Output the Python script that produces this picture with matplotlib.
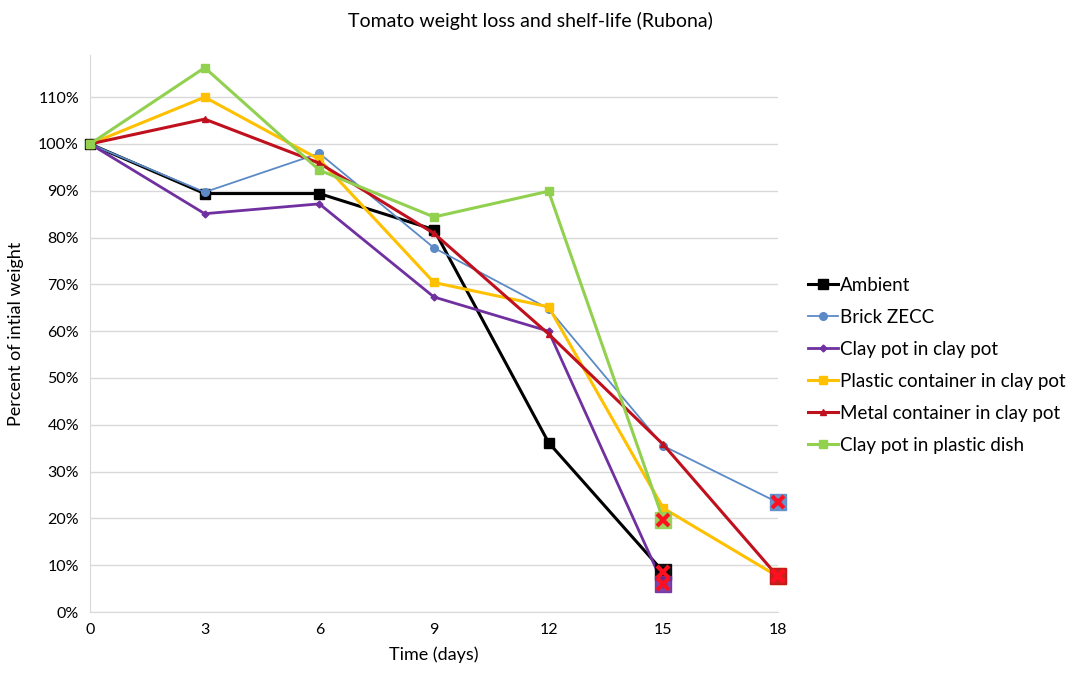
import numpy as np
import matplotlib.pyplot as plt
from matplotlib.ticker import PercentFormatter

plt.rcParams['font.family'] = ['Lato', 'DejaVu Sans']

# days of measurement
days = [0, 3, 6, 9, 12, 15, 18]

# percent of initial weight per storage method (None = no reading)
ambient = [100, 89.4, 89.4, 81.7, 36.2, 8.6, None]
brick_zecc = [100, 89.7, 98.0, 77.8, 64.8, 35.5, 23.4]
clay_in_clay = [100, 85.1, 87.2, 67.3, 60.0, 5.9, None]
plastic_in_clay = [100, 110.0, 96.7, 70.4, 65.2, 22.2, 7.6]
metal_in_clay = [100, 105.3, 95.9, 80.9, 59.4, 35.8, 7.6]
clay_in_dish = [100, 116.3, 94.4, 84.4, 89.9, 19.7, None]

labels = ["Ambient", "Brick ZECC", "Clay pot in clay pot",
          "Plastic container in clay pot", "Metal container in clay pot",
          "Clay pot in plastic dish"]
series = [ambient, brick_zecc, clay_in_clay, plastic_in_clay, metal_in_clay, clay_in_dish]
colors = ["#000000", "#5B8AC6", "#7030A0", "#FFC000", "#C0101E", "#92D050"]
markers = ["s", "o", "D", "s", "^", "s"]
msizes = [6.5, 5.5, 3.5, 6, 5, 6]
lwidths = [2.2, 1.3, 2.0, 2.2, 2.2, 2.2]

fig = plt.figure(figsize=(10.67, 6.75), dpi=100)
ax = fig.add_axes([0.0844, 0.0933, 0.6446, 0.8252])

for vals, lab, c, m, ms, lw in zip(series, labels, colors, markers, msizes, lwidths):
    x = [d for d, v in zip(days, vals) if v is not None]
    y = [v / 100 for v in vals if v is not None]
    ax.plot(x, y, color=c, marker=m, markersize=ms, linewidth=lw, label=lab,
            zorder=3, clip_on=False)

# last reading of each series: spoiled marker
for vals, c in zip(series, colors):
    x = [d for d, v in zip(days, vals) if v is not None]
    y = [v / 100 for v in vals if v is not None]
    ax.plot(x[-1], y[-1], marker="s", markersize=12, color=c, markeredgecolor=c,
            alpha=0.9, linestyle="none", zorder=4, clip_on=False)
    ax.plot(x[-1], y[-1], marker="x", markersize=8, markeredgewidth=3,
            color="#FF1020", linestyle="none", zorder=5, clip_on=False)

ax.set_xlim(0, 18)
ax.set_ylim(0, 1.19)
ax.set_xticks(days)
ax.set_yticks(np.arange(0, 1.11, 0.1))
ax.yaxis.set_major_formatter(PercentFormatter(1.0, decimals=0))
ax.tick_params(length=0, labelsize=11.5, pad=8)
ax.grid(axis="y", color="#D9D9D9", linewidth=1)
ax.set_axisbelow(True)
for s in ["top", "right"]:
    ax.spines[s].set_visible(False)
for s in ["left", "bottom"]:
    ax.spines[s].set_color("#D9D9D9")

ax.set_xlabel("Time (days)", fontsize=13, labelpad=7)
ax.set_ylabel("Percent of intial weight", fontsize=13, labelpad=10)
fig.suptitle("Tomato weight loss and shelf-life (Rubona)", fontsize=14, x=0.497, y=0.982)

ax.legend(loc="center left", bbox_to_anchor=(1.02, 0.443), frameon=False, fontsize=13.5,
          handlelength=1.6, handletextpad=0.1, labelspacing=0.8)

fig.savefig("out.png", dpi=100)
